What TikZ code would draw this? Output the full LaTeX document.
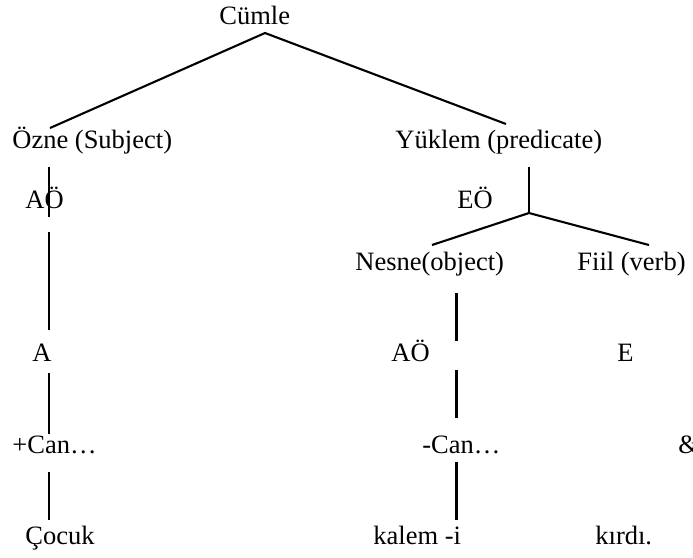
\documentclass[tikz,border=0pt]{standalone}
\usepackage{fontspec}
\setmainfont{Liberation Serif}
\newcommand{\treefont}{\fontsize{13.25}{15.5}\selectfont}
\tikzset{
  word/.style={anchor=base west,inner sep=0},
  branch/.style={line width=1.05pt,line cap=butt}
}

\begin{document}
\begin{tikzpicture}[x=0.5pt,y=-0.5pt,font=\treefont]
\useasboundingbox (0,0) rectangle (693,558);
% words, one row after the other
\node[word] (cumle) at (219,24) {Cümle};
\node[word] (ozne) at (12,148) {Özne (Subject)};
\node[word] (yuklem) at (395,148) {Yüklem (predicate)};
\node[word] (aoL) at (25,208) {AÖ};
\node[word] (eo) at (457,208) {EÖ};
\node[word] (nesne) at (355,270) {Nesne(object)};
\node[word] (fiil) at (577,270) {Fiil (verb)};
\node[word] (aL) at (32,361) {A};
\node[word] (aoR) at (391,361) {AÖ};
\node[word] (eR) at (617,361) {E};
\node[word] (canP) at (12,453) {+Can…};
\node[word] (canM) at (422,453) {-Can…};
\node[word] (amp) at (678,453) {\&};
\node[word] (cocuk) at (25,544) {Çocuk};
\node[word] (kalem) at (373,544) {kalem -i};
\node[word] (kirdi) at (595,544) {kırdı.};
% branch ends
\coordinate (top) at (265,33);
\coordinate (oznetip) at (50,128);
\coordinate (yuklemtip) at (506,124);
\coordinate (s1a) at (49,167); \coordinate (s1b) at (49,217);
\coordinate (s2a) at (49,232); \coordinate (s2b) at (49,330);
\coordinate (s3a) at (49,373); \coordinate (s3b) at (49,434);
\coordinate (s4a) at (49,472); \coordinate (s4b) at (49,520);
\coordinate (vp) at (529,167); \coordinate (fork) at (529,213);
\coordinate (nesnetip) at (432,245); \coordinate (fiiltip) at (649,245);
\coordinate (t1a) at (456.5,293); \coordinate (t1b) at (456.5,341);
\coordinate (t2a) at (456.5,370); \coordinate (t2b) at (456.5,418);
\coordinate (t3a) at (456.5,462); \coordinate (t3b) at (456.5,520);
% the tree
\draw[branch] (oznetip) -- (top) -- (yuklemtip);
\draw[branch] (s1a) -- (s1b);
\draw[branch] (s2a) -- (s2b);
\draw[branch] (s3a) -- (s3b);
\draw[branch] (s4a) -- (s4b);
\draw[branch] (vp) -- (fork);
\draw[branch] (nesnetip) -- (fork) -- (fiiltip);
\draw[branch] (t1a) -- (t1b);
\draw[branch] (t2a) -- (t2b);
\draw[branch] (t3a) -- (t3b);
\end{tikzpicture}
\end{document}
